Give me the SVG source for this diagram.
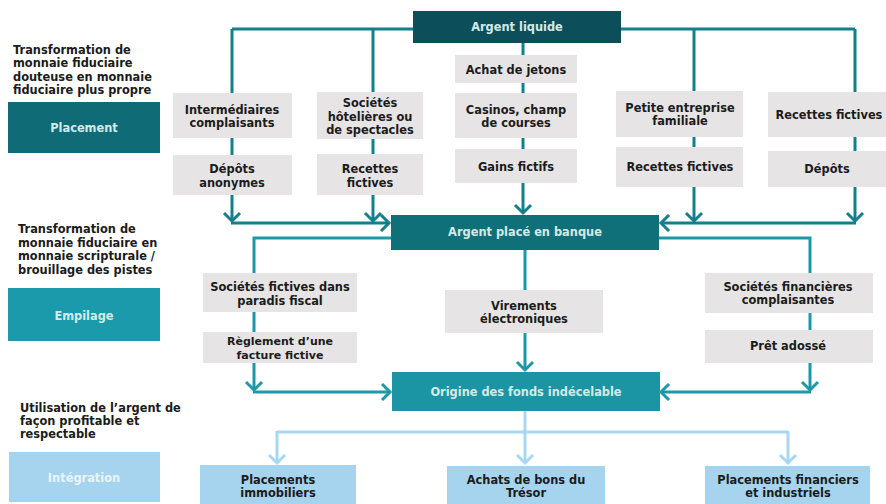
<svg xmlns="http://www.w3.org/2000/svg" width="886" height="504" viewBox="0 0 886 504">
  <style>
    text { font-family: "DejaVu Sans", Verdana, sans-serif; font-weight: bold; font-size: 11.4px; }
    .lbl { fill: #1b1b1b; }
    .light { fill: #d3ebe7; text-anchor: middle; }
    .pale { fill: #e9f5fb; text-anchor: middle; }
    .c { text-anchor: middle; fill: #1b1b1b; }
    .sm { font-size: 11px; }
    .gray { fill: #e6e4e4; }
    .blue { fill: #a6d3ee; }
    .l1 { stroke: #137e8c; stroke-width: 3; fill: none; }
    .l2 { stroke: #1c99a8; stroke-width: 3; fill: none; }
    .l3 { stroke: #a9d6f0; stroke-width: 3; fill: none; }
  </style>
  <defs>
    <marker id="a1" markerUnits="userSpaceOnUse" viewBox="0 0 20 20" refX="11" refY="10" markerWidth="20" markerHeight="20" orient="auto">
      <path d="M3,2 L11,10 L3,18" fill="none" stroke="#137e8c" stroke-width="3"/>
    </marker>
    <marker id="a2" markerUnits="userSpaceOnUse" viewBox="0 0 20 20" refX="11" refY="10" markerWidth="20" markerHeight="20" orient="auto">
      <path d="M3,2 L11,10 L3,18" fill="none" stroke="#1c99a8" stroke-width="3"/>
    </marker>
    <marker id="a3" markerUnits="userSpaceOnUse" viewBox="0 0 20 20" refX="11" refY="10" markerWidth="20" markerHeight="20" orient="auto">
      <path d="M3,2 L11,10 L3,18" fill="none" stroke="#a9d6f0" stroke-width="3"/>
    </marker>
  </defs>

  <rect width="886" height="504" fill="#ffffff"/>

  <!-- connectors -->
  <g id="connectors">
    <!-- placement stage -->
    <path class="l1" d="M232,29 H855"/>
    <path class="l1" d="M232,29 V93 M373,29 V92 M694,29 V92 M855,29 V92 M523,43 V56"/>
    <path class="l1" d="M232,138 V155 M373,139 V154 M523,83 V93 M523,138 V149 M694,137 V147 M855,137 V151"/>
    <path class="l1" d="M232,195 V221" marker-end="url(#a1)"/>
    <path class="l1" d="M373,195 V221" marker-end="url(#a1)"/>
    <path class="l1" d="M694,187 V221" marker-end="url(#a1)"/>
    <path class="l1" d="M855,187 V221" marker-end="url(#a1)"/>
    <path class="l1" d="M523,183 V213" marker-end="url(#a1)"/>
    <path class="l1" d="M231,223 H389" marker-end="url(#a1)"/>
    <path class="l1" d="M856,223 H661" marker-end="url(#a1)"/>
    <!-- layering stage -->
    <path class="l2" d="M391,238 H254 V273"/>
    <path class="l2" d="M659,238 H810 V273"/>
    <path class="l2" d="M525,250 V290"/>
    <path class="l2" d="M254,312 V332 M810,313 V330"/>
    <path class="l2" d="M254,363 V390" marker-end="url(#a2)"/>
    <path class="l2" d="M810,363 V390" marker-end="url(#a2)"/>
    <path class="l2" d="M253,392 H390" marker-end="url(#a2)"/>
    <path class="l2" d="M811,392 H661" marker-end="url(#a2)"/>
    <path class="l2" d="M525,333 V370" marker-end="url(#a2)"/>
    <!-- integration stage -->
    <path class="l3" d="M277,432 H788"/>
    <path class="l3" d="M525,411 V463" marker-end="url(#a3)"/>
    <path class="l3" d="M277,431 V463" marker-end="url(#a3)"/>
    <path class="l3" d="M788,431 V463" marker-end="url(#a3)"/>
  </g>

  <!-- stage captions -->
  <g id="stage-placement">
    <text class="lbl" x="13" y="54">Transformation de</text>
    <text class="lbl" x="13" y="67">monnaie fiduciaire</text>
    <text class="lbl" x="13" y="81">douteuse en monnaie</text>
    <text class="lbl" x="13" y="94">fiduciaire plus propre</text>
    <rect x="8" y="102" width="152" height="51" fill="#0f6c77"/>
    <text class="light" x="84" y="132">Placement</text>
  </g>
  <g id="stage-empilage">
    <text class="lbl" x="18" y="233">Transformation de</text>
    <text class="lbl" x="18" y="247">monnaie fiduciaire en</text>
    <text class="lbl" x="18" y="260">monnaie scripturale /</text>
    <text class="lbl" x="18" y="274">brouillage des pistes</text>
    <rect x="8" y="288" width="152" height="53" fill="#1a9aaa"/>
    <text class="light" x="84" y="320">Empilage</text>
  </g>
  <g id="stage-integration">
    <text class="lbl" x="20" y="412">Utilisation de l’argent de</text>
    <text class="lbl" x="20" y="425">façon profitable et</text>
    <text class="lbl" x="20" y="438">respectable</text>
    <rect x="9" y="452" width="151" height="50" fill="#a6d3ee"/>
    <text class="pale" x="84" y="482">Intégration</text>
  </g>

  <!-- main flow -->
  <g id="argent-liquide">
    <rect x="413" y="11" width="208" height="32" fill="#0c4f5b"/>
    <text class="light" x="517" y="31">Argent liquide</text>
  </g>
  <g id="argent-place">
    <rect x="391" y="215" width="268" height="35" fill="#10707a"/>
    <text class="light" x="525" y="236">Argent placé en banque</text>
  </g>
  <g id="origine-fonds">
    <rect x="392" y="372" width="268" height="39" fill="#1b95a3"/>
    <text class="light" x="526" y="396">Origine des fonds indécelable</text>
  </g>

  <!-- placement channels -->
  <g id="intermediaires">
    <rect class="gray" x="173" y="93" width="119" height="45"/>
    <text class="c" x="232" y="114">Intermédiaires</text>
    <text class="c" x="232" y="127">complaisants</text>
  </g>
  <g id="depots-anonymes">
    <rect class="gray" x="173" y="155" width="119" height="40"/>
    <text class="c" x="232" y="173">Dépôts</text>
    <text class="c" x="232" y="187">anonymes</text>
  </g>
  <g id="societes-hotelieres">
    <rect class="gray" x="317" y="92" width="106" height="47"/>
    <text class="c" x="370" y="107">Sociétés</text>
    <text class="c" x="370" y="121">hôtelières ou</text>
    <text class="c" x="370" y="134">de spectacles</text>
  </g>
  <g id="recettes-fictives-1">
    <rect class="gray" x="317" y="154" width="106" height="41"/>
    <text class="c" x="370" y="173">Recettes</text>
    <text class="c" x="370" y="187">fictives</text>
  </g>
  <g id="achat-jetons">
    <rect class="gray" x="455" y="55" width="122" height="28"/>
    <text class="c" x="516" y="74">Achat de jetons</text>
  </g>
  <g id="casinos">
    <rect class="gray" x="455" y="93" width="122" height="45"/>
    <text class="c" x="516" y="114">Casinos, champ</text>
    <text class="c" x="516" y="127">de courses</text>
  </g>
  <g id="gains-fictifs">
    <rect class="gray" x="455" y="149" width="122" height="34"/>
    <text class="c" x="516" y="171">Gains fictifs</text>
  </g>
  <g id="petite-entreprise">
    <rect class="gray" x="616" y="91" width="127" height="46"/>
    <text class="c" x="680" y="112">Petite entreprise</text>
    <text class="c" x="680" y="125">familiale</text>
  </g>
  <g id="recettes-fictives-2">
    <rect class="gray" x="616" y="147" width="127" height="40"/>
    <text class="c" x="680" y="171">Recettes fictives</text>
  </g>
  <g id="recettes-fictives-3">
    <rect class="gray" x="768" y="92" width="118" height="45"/>
    <text class="c" x="829" y="119">Recettes fictives</text>
  </g>
  <g id="depots">
    <rect class="gray" x="768" y="151" width="118" height="36"/>
    <text class="c" x="827" y="173">Dépôts</text>
  </g>

  <!-- layering channels -->
  <g id="societes-fictives">
    <rect class="gray" x="203" y="273" width="154" height="39"/>
    <text class="c" x="280" y="291">Sociétés fictives dans</text>
    <text class="c" x="280" y="305">paradis fiscal</text>
  </g>
  <g id="reglement-facture">
    <rect class="gray" x="203" y="332" width="154" height="31"/>
    <text class="c sm" x="280" y="345">Règlement d’une</text>
    <text class="c sm" x="280" y="358.5">facture fictive</text>
  </g>
  <g id="virements">
    <rect class="gray" x="445" y="290" width="158" height="43"/>
    <text class="c" x="524" y="310">Virements</text>
    <text class="c" x="524" y="323">électroniques</text>
  </g>
  <g id="societes-financieres">
    <rect class="gray" x="705" y="273" width="168" height="40"/>
    <text class="c" x="788" y="291">Sociétés financières</text>
    <text class="c" x="788" y="304">complaisantes</text>
  </g>
  <g id="pret-adosse">
    <rect class="gray" x="705" y="330" width="168" height="33"/>
    <text class="c" x="788" y="350">Prêt adossé</text>
  </g>

  <!-- integration outlets -->
  <g id="placements-immobiliers">
    <rect class="blue" x="200" y="465" width="156" height="45"/>
    <text class="c" x="278" y="484">Placements</text>
    <text class="c" x="278" y="497">immobiliers</text>
  </g>
  <g id="bons-tresor">
    <rect class="blue" x="447" y="466" width="158" height="44"/>
    <text class="c" x="526" y="484">Achats de bons du</text>
    <text class="c" x="526" y="497">Trésor</text>
  </g>
  <g id="placements-financiers">
    <rect class="blue" x="705" y="466" width="165" height="44"/>
    <text class="c" x="788" y="484">Placements financiers</text>
    <text class="c" x="788" y="497">et industriels</text>
  </g>
</svg>
